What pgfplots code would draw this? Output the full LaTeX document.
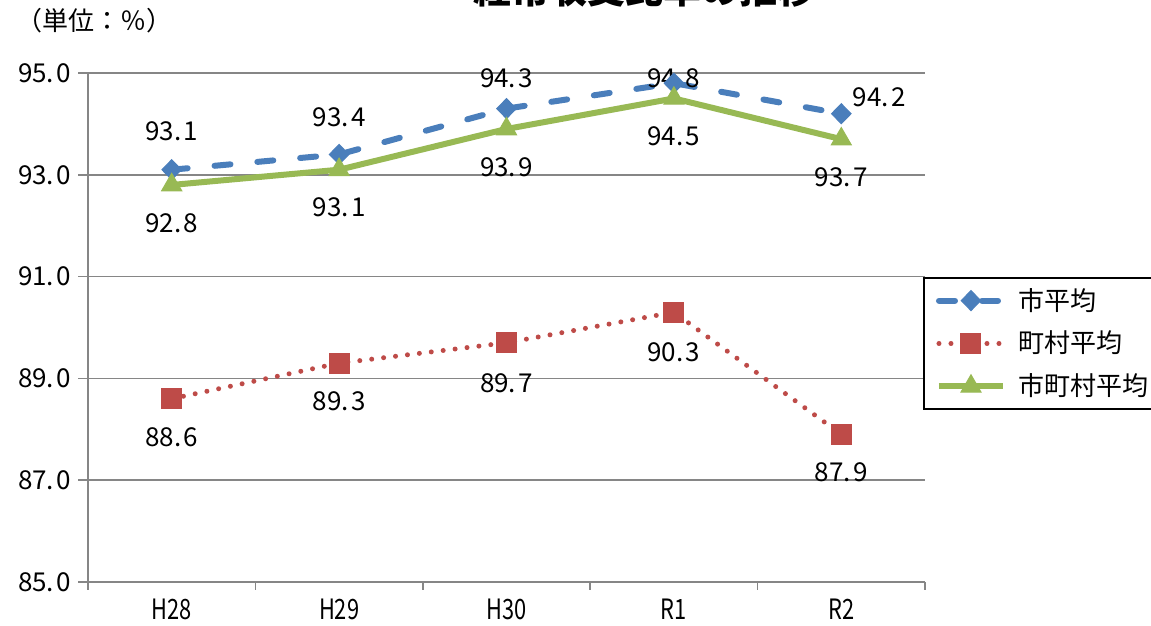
\documentclass[border=0pt]{standalone}
\usepackage{fontspec}
\setmainfont{Noto Sans CJK JP}
\newfontfamily\catfont[FakeStretch=0.78]{Noto Sans CJK JP}
\usepackage{pgfplots}
\pgfplotsset{compat=1.18}
\definecolor{sblue}{HTML}{4A7EBB}
\definecolor{sred}{HTML}{BE4B48}
\definecolor{sgreen}{HTML}{98B954}
\definecolor{gridgray}{HTML}{868686}
\newcommand{\nm}[2]{#1.\kern1.2pt#2}
\begin{document}
\begin{tikzpicture}
\path[use as bounding box, clip] (0,0) rectangle (575.5pt,313pt);
\node[anchor=base, font=\fontsize{19}{22}\selectfont\bfseries] at (322pt,311.3pt) {経常収支比率の推移};
\node[anchor=west, inner sep=0pt, font=\fontsize{13}{15}\selectfont] at (8pt,302.5pt) {（単位：％）};
\begin{axis}[
  at={(44pt,22pt)}, anchor=south west,
  width=418.5pt, height=254.5pt, scale only axis,
  xmin=-0.5, xmax=4.5, ymin=85, ymax=95,
  clip=false,
  axis lines=left,
  axis line style={-, draw=gridgray, line width=0.75pt},
  ymajorgrids, major grid style={draw=gridgray, line width=0.75pt},
  ytick={85,87,89,91,93,95},
  yticklabels={\nm{85}{0},\nm{87}{0},\nm{89}{0},\nm{91}{0},\nm{93}{0},\nm{95}{0}},
  xtick={0,1,2,3,4},
  xticklabels={H28,H29,H30,R1,R2},
  minor xtick={-0.5,0.5,1.5,2.5,3.5,4.5},
  tick align=outside,
  major tick length=5pt, minor tick length=4pt,
  tick style={draw=gridgray, line width=0.75pt},
  major x tick style={draw=none},
  yticklabel style={font=\fontsize{13}{15}\selectfont},
  xticklabel style={font=\catfont\fontsize{14}{16}\selectfont},
  /pgf/number format/assume math mode=true,
  legend image code/.code={\draw[mark repeat=2,mark phase=2,#1] plot coordinates {(0pt,0pt) (16pt,0pt) (32pt,0pt)};},
  legend style={at={(0.9976,0.599)}, anchor=north west, draw=black, line width=1pt, fill=white,
    font=\fontsize{13}{15}\selectfont, nodes={inner sep=0pt}, row sep=9pt, column sep=6.5pt,
    inner xsep=6pt, inner ysep=5pt},
  legend cell align=left,
]
\addplot[sblue, line width=3pt, dash pattern=on 8pt off 13.5pt, line cap=round,
  mark=diamond*, mark size=5pt, mark options={solid, xscale=1.3, fill=sblue, draw=sblue, line width=0.5pt}]
  coordinates {(0,93.1) (1,93.4) (2,94.3) (3,94.8) (4,94.2)};
\addlegendentry{市平均}
\addplot[sred, line width=2.5pt, dash pattern=on 0pt off 6pt, line cap=round,
  mark=square*, mark size=5pt, mark options={solid, fill=sred, draw=sred, line width=0.5pt}]
  coordinates {(0,88.6) (1,89.3) (2,89.7) (3,90.3) (4,87.9)};
\addlegendentry{町村平均}
\addplot[sgreen, line width=3pt,
  mark=triangle*, mark size=5.8pt, mark options={solid, fill=sgreen, draw=sgreen, line width=0.5pt}]
  coordinates {(0,92.8) (1,93.1) (2,93.9) (3,94.5) (4,93.7)};
\addlegendentry{市町村平均}
% data labels
\begin{scope}[every node/.style={font=\fontsize{13}{15}\selectfont, inner sep=0pt}]
\node at (axis cs:0,93.1) [yshift=19pt] {\nm{93}{1}};
\node at (axis cs:1,93.4) [yshift=18.7pt] {\nm{93}{4}};
\node at (axis cs:2,94.3) [yshift=15.3pt] {\nm{94}{3}};
\node at (axis cs:3,94.8) [yshift=2.5pt] {\nm{94}{8}};
\node[anchor=west] at (axis cs:4,94.2) [xshift=5.5pt, yshift=8pt] {\nm{94}{2}};
\node at (axis cs:0,88.6) [yshift=-19pt] {\nm{88}{6}};
\node at (axis cs:1,89.3) [yshift=-19pt] {\nm{89}{3}};
\node at (axis cs:2,89.7) [yshift=-20pt] {\nm{89}{7}};
\node at (axis cs:3,90.3) [yshift=-20pt] {\nm{90}{3}};
\node at (axis cs:4,87.9) [yshift=-19pt] {\nm{87}{9}};
\node at (axis cs:0,92.8) [yshift=-19pt] {\nm{92}{8}};
\node at (axis cs:1,93.1) [yshift=-19pt] {\nm{93}{1}};
\node at (axis cs:2,93.9) [yshift=-19pt] {\nm{93}{9}};
\node at (axis cs:3,94.5) [yshift=-19pt] {\nm{94}{5}};
\node at (axis cs:4,93.7) [yshift=-19pt] {\nm{93}{7}};
\end{scope}
\end{axis}
\end{tikzpicture}
\end{document}
